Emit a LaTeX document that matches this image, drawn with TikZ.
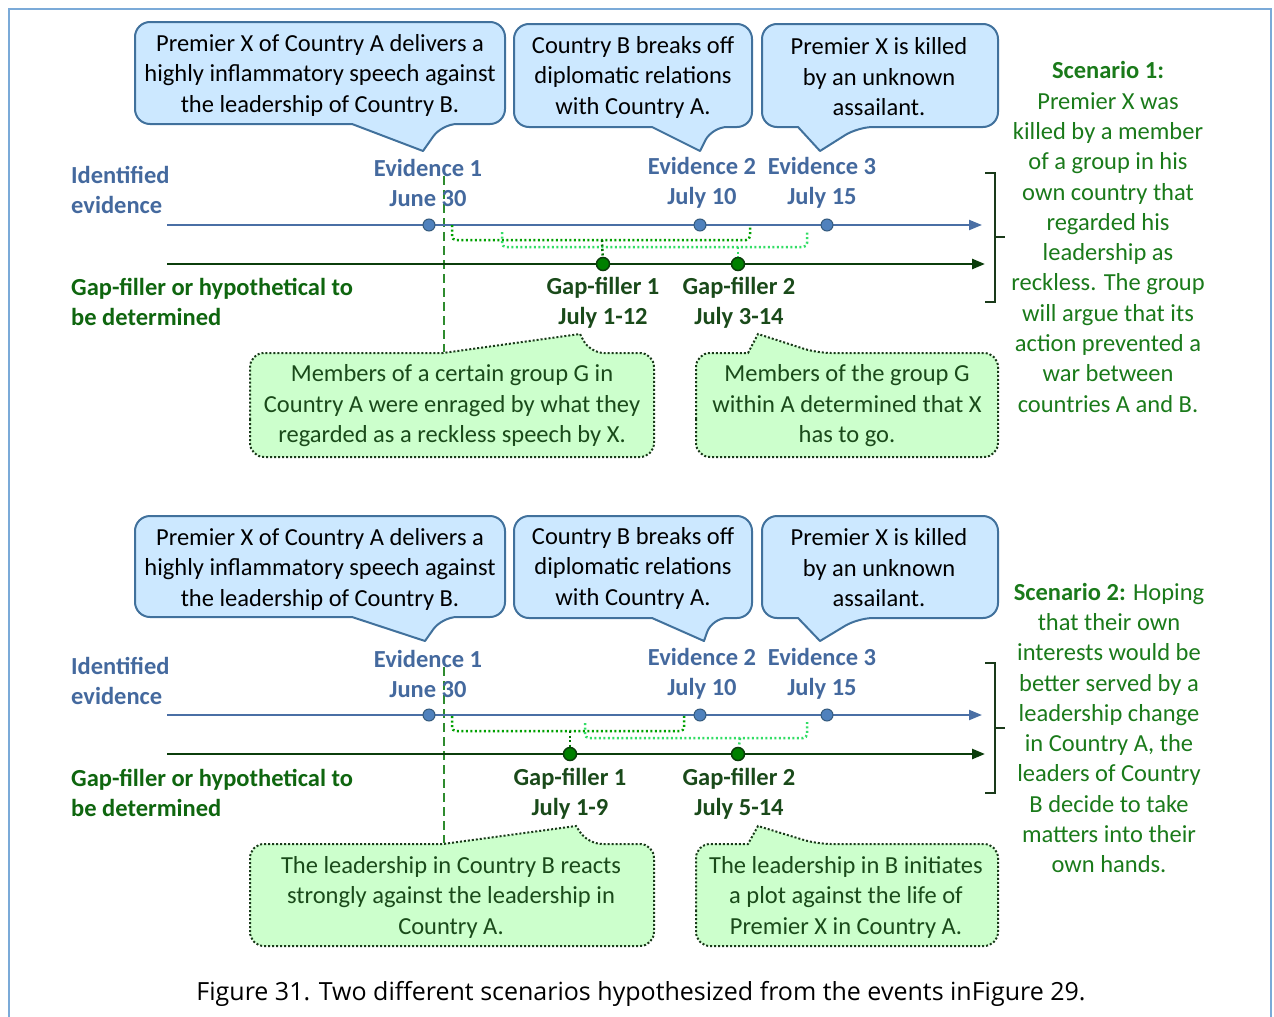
\documentclass[tikz,border=0pt]{standalone}
\usepackage{fontspec}
\setmainfont{Carlito}
\newfontfamily\capfont{Open Sans}
\usetikzlibrary{arrows.meta}
\definecolor{bfill}{HTML}{CCE8FF}
\definecolor{bdraw}{HTML}{41719C}
\definecolor{gfill}{HTML}{CCFFCC}
\definecolor{gdraw}{HTML}{1A3A1A}
\definecolor{evblue}{HTML}{44699E}
\definecolor{lineblue}{HTML}{4A6FA5}
\definecolor{dotblue}{HTML}{4F81BD}
\definecolor{dkgreen}{HTML}{0B3D0B}
\definecolor{dotgreen}{HTML}{008000}
\definecolor{txgreen}{HTML}{1A7A1A}
\definecolor{lblgreen}{HTML}{0F660F}
\definecolor{gftext}{HTML}{1A4A1A}
\definecolor{brkone}{HTML}{00A000}
\definecolor{brktwo}{HTML}{33DD66}
\definecolor{dashgreen}{HTML}{2E8B2E}
\definecolor{framecol}{HTML}{7BAAD8}
\begin{document}
\begin{tikzpicture}[x=1pt,y=-1pt,
  font=\fontsize{24.5}{30.5}\selectfont,
  bcall/.style={fill=bfill,draw=bdraw,line width=2pt,line join=round},
  gcall/.style={fill=gfill,draw=gdraw,line width=2pt,dash pattern=on 2pt off 2pt},
  txt/.style={align=center,inner sep=0pt},
  bodytxt/.style={txt,text=black},
  gtxt/.style={txt,text=gftext},
  evlbl/.style={txt,text=evblue,font=\bfseries\fontsize{24.5}{30}\selectfont},
  gflbl/.style={txt,text=gftext,font=\bfseries\fontsize{24.5}{30}\selectfont},
  sidelbl/.style={align=left,inner sep=0pt,anchor=west,font=\bfseries\fontsize{24.5}{30}\selectfont},
  scen/.style={txt,text=txgreen,font=\fontsize{24.5}{30.3}\selectfont},
  bline/.style={draw=lineblue,line width=2.2pt,-{Triangle[length=13pt,width=10pt]}},
  gline/.style={draw=dkgreen,line width=2.5pt,-{Triangle[length=13pt,width=10pt]}},
  bdot/.style={circle,fill=dotblue,draw=bdraw!80!black,line width=1pt,minimum size=12pt,inner sep=0pt},
  gdot/.style={circle,fill=dotgreen,draw=dkgreen,line width=1.5pt,minimum size=13pt,inner sep=0pt},
  vdash/.style={draw=dashgreen,line width=2pt,dash pattern=on 9pt off 5pt},
  brka/.style={draw=brkone,line width=2.5pt,dash pattern=on 2pt off 2.5pt,rounded corners=4pt},
  brkb/.style={draw=brktwo,line width=2.5pt,dash pattern=on 2pt off 2.5pt,rounded corners=4pt},
  brace/.style={draw=gdraw,line width=2pt}
]
\useasboundingbox (0,0) rectangle (1274,1017);
\draw[framecol,line width=2pt] (9,1040) -- (9,9) -- (1271,9) -- (1271,1040);

% ================= TOP PANEL =================
\draw[bcall] (320,22) [rounded corners=15pt] -- (505,22) -- (505,124) -- (442,124) [sharp corners] -- (423,151) -- (352,124) [rounded corners=15pt] -- (135,124) -- (135,22) -- cycle;
\draw[bcall] (630,24) [rounded corners=15pt] -- (752,24) -- (752,127) -- (712,127) [sharp corners] -- (700,151) -- (652,127) [rounded corners=15pt] -- (514,127) -- (514,24) -- cycle;
\draw[bcall] (880,24) [rounded corners=15pt] -- (998,24) -- (998,127) -- (858,127) [sharp corners] -- (820,151) -- (798,127) [rounded corners=15pt] -- (762,127) -- (762,24) -- cycle;
\node[bodytxt] (c1a) at (320,75) {Premier X of Country A delivers a\\highly inflammatory speech against\\the leadership of Country B.};
\node[bodytxt] (c2a) at (633,77) {Country B breaks off\\diplomatic relations\\with Country A.};
\node[bodytxt] (c3a) at (879,77) {Premier X is killed\\by an unknown\\assailant.};

\draw[gcall] (250,405) [rounded corners=14pt] -- (250,457) -- (654,457) -- (654,353) -- (590,353) [sharp corners] -- (580,334) -- (443,353) [rounded corners=14pt] -- (250,353) -- cycle;
\draw[gcall] (696,405) [rounded corners=14pt] -- (696,457) -- (998,457) -- (998,353) -- (817,353) [sharp corners] -- (758,334) -- (748,353) [rounded corners=14pt] -- (696,353) -- cycle;
\node[gtxt] (g1a) at (452,406) {Members of a certain group G in\\Country A were enraged by what they\\regarded as a reckless speech by X.};
\node[gtxt] (g2a) at (847,406) {Members of the group G\\within A determined that X\\has to go.};

\coordinate (vta) at (444,176);
\coordinate (vba) at (444,352);
\draw[vdash] (vta) -- (vba);

\node[sidelbl,text=evblue] (ida) at (71,190) {Identified\\evidence};
\node[sidelbl,text=lblgreen] (gfa) at (71,302) {Gap-filler or hypothetical to\\be determined};

\coordinate (bsa) at (167,225); \coordinate (bea) at (982,225);
\coordinate (gsa) at (167,264); \coordinate (gea) at (985,264);
\draw[bline] (bsa) -- (bea);
\draw[gline] (gsa) -- (gea);

\draw[brka] (452,225) -- (452,240) -- (750,240) -- (750,225);
\draw[brkb] (502,232) -- (502,247) -- (807,247) -- (807,232);
\node[bdot] (e1a) at (429,225) {};
\node[bdot] (e2a) at (700,225) {};
\node[bdot] (e3a) at (827,225) {};
\node[gdot] (f1a) at (603,264) {};
\node[gdot] (f2a) at (738,264) {};
\coordinate (k1a) at (602,240);
\coordinate (k2a) at (738,247);
\draw[brka,draw=brkone!70!black] (k1a) -- (f1a);
\draw[brkb] (k2a) -- (f2a);

\node[evlbl] (l1a) at (428,183) {Evidence 1\\June 30};
\node[evlbl] (l2a) at (702,183) {Evidence 2\\July 10};
\node[evlbl] (l3a) at (822,183) {Evidence 3\\July 15};
\node[gflbl] (m1a) at (603,303) {Gap-filler 1\\July 1-12};
\node[gflbl] (m2a) at (739,303) {Gap-filler 2\\July 3-14};

\draw[brace] (985,173) -- (995,173) -- (995,302) -- (985,302);
\draw[brace] (995,237) -- (1005,237);

\node[scen] (s1) at (1108,237) {\textbf{Scenario 1:}\\Premier X was\\killed by a member\\of a group in his\\own country that\\regarded his\\leadership as\\reckless. The group\\will argue that its\\action prevented a\\war between\\countries A and B.};

% ================= BOTTOM PANEL =================
\draw[bcall] (320,516) [rounded corners=15pt] -- (505,516) -- (505,617) -- (442,617) [sharp corners] -- (425,641) -- (352,617) [rounded corners=15pt] -- (135,617) -- (135,516) -- cycle;
\draw[bcall] (630,516) [rounded corners=15pt] -- (752,516) -- (752,618) -- (712,618) [sharp corners] -- (704,641) -- (652,618) [rounded corners=15pt] -- (514,618) -- (514,516) -- cycle;
\draw[bcall] (880,516) [rounded corners=15pt] -- (998,516) -- (998,618) -- (858,618) [sharp corners] -- (820,641) -- (798,618) [rounded corners=15pt] -- (762,618) -- (762,516) -- cycle;
\node[bodytxt] (c1b) at (320,569) {Premier X of Country A delivers a\\highly inflammatory speech against\\the leadership of Country B.};
\node[bodytxt] (c2b) at (633,568) {Country B breaks off\\diplomatic relations\\with Country A.};
\node[bodytxt] (c3b) at (879,568) {Premier X is killed\\by an unknown\\assailant.};

\draw[gcall] (250,896) [rounded corners=14pt] -- (250,946) -- (654,946) -- (654,844) -- (588,844) [sharp corners] -- (576,826) -- (443,844) [rounded corners=14pt] -- (250,844) -- cycle;
\draw[gcall] (696,896) [rounded corners=14pt] -- (696,946) -- (998,946) -- (998,844) -- (817,844) [sharp corners] -- (758,826) -- (748,844) [rounded corners=14pt] -- (696,844) -- cycle;
\node[gtxt] (g1b) at (451,897) {The leadership in Country B reacts\\strongly against the leadership in\\Country A.};
\node[gtxt] (g2b) at (846,897) {The leadership in B initiates\\a plot against the life of\\Premier X in Country A.};

\coordinate (vtb) at (444,667);
\coordinate (vbb) at (444,843);
\draw[vdash] (vtb) -- (vbb);

\node[sidelbl,text=evblue] (idb) at (71,681) {Identified\\evidence};
\node[sidelbl,text=lblgreen] (gfb) at (71,793) {Gap-filler or hypothetical to\\be determined};

\coordinate (bsb) at (167,715); \coordinate (beb) at (982,715);
\coordinate (gsb) at (167,754); \coordinate (geb) at (985,754);
\draw[bline] (bsb) -- (beb);
\draw[gline] (gsb) -- (geb);

\draw[brka] (452,716) -- (452,731) -- (684,731) -- (684,716);
\draw[brkb] (585,723) -- (585,738) -- (807,738) -- (807,722);
\node[bdot] (e1b) at (429,715) {};
\node[bdot] (e2b) at (700,715) {};
\node[bdot] (e3b) at (827,715) {};
\node[gdot] (f1b) at (570,754) {};
\node[gdot] (f2b) at (738,754) {};
\coordinate (k1b) at (570,731);
\coordinate (k2b) at (740,738);
\draw[brka,draw=brkone!70!black] (k1b) -- (f1b);
\draw[brkb] (k2b) -- (f2b);

\node[evlbl] (l1b) at (428,674) {Evidence 1\\June 30};
\node[evlbl] (l2b) at (702,674) {Evidence 2\\July 10};
\node[evlbl] (l3b) at (822,674) {Evidence 3\\July 15};
\node[gflbl] (m1b) at (570,794) {Gap-filler 1\\July 1-9};
\node[gflbl] (m2b) at (739,794) {Gap-filler 2\\July 5-14};

\draw[brace] (985,663) -- (995,663) -- (995,793) -- (985,793);
\draw[brace] (995,728) -- (1005,728);

\node[scen] (s2) at (1109,728) {\textbf{Scenario 2:} Hoping\\that their own\\interests would be\\better served by a\\leadership change\\in Country A, the\\leaders of Country\\B decide to take\\matters into their\\own hands.};

\node[txt,text=black,font=\capfont\fontsize{25}{29}\selectfont] (cap) at (641,994) {Figure 31. Two different scenarios hypothesized from the events inFigure 29.};
\end{tikzpicture}
\end{document}
